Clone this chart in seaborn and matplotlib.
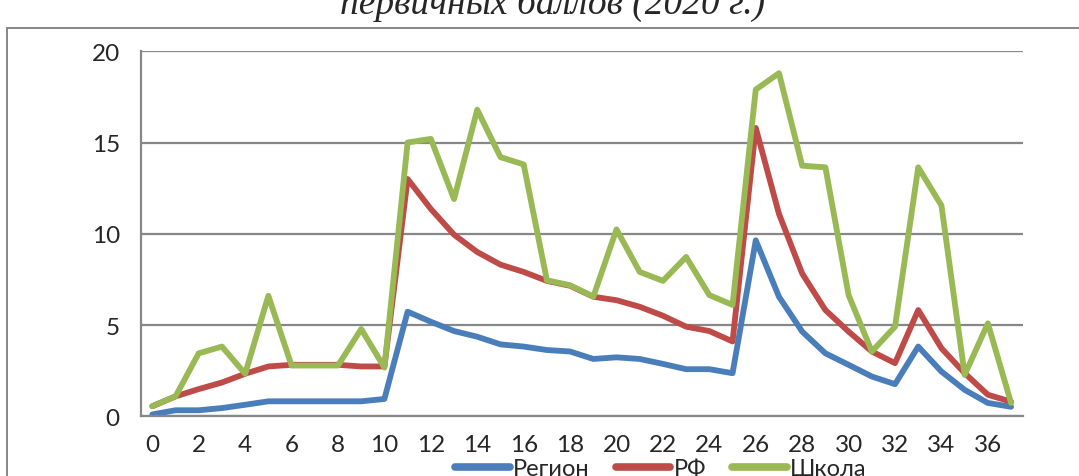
import numpy as np
import pandas as pd
import matplotlib
matplotlib.use('Agg')
import matplotlib.pyplot as plt
import seaborn as sns
from matplotlib.patches import Rectangle

# primary scores 0..37
scores = list(range(38))
region = [0.1, 0.33, 0.33, 0.45, 0.63, 0.82, 0.82, 0.82, 0.82, 0.82, 0.95,
          5.73, 5.18, 4.67, 4.36, 3.94, 3.82, 3.63, 3.55, 3.14, 3.23, 3.14,
          2.87, 2.58, 2.58, 2.36, 9.64, 6.55, 4.64, 3.45, 2.82, 2.18, 1.76,
          3.82, 2.45, 1.45, 0.73, 0.52]
rf = [0.55, 1.09, 1.49, 1.85, 2.33, 2.73, 2.82, 2.82, 2.82, 2.73, 2.73,
      13.0, 11.36, 9.95, 9.0, 8.31, 7.91, 7.42, 7.15, 6.55, 6.36, 6.0,
      5.51, 4.91, 4.67, 4.1, 15.8, 11.09, 7.82, 5.82, 4.64, 3.55, 2.91,
      5.82, 3.73, 2.36, 1.18, 0.8]
school = [0.55, 1.09, 3.45, 3.82, 2.33, 6.6, 2.78, 2.78, 2.78, 4.78, 2.67,
          15.0, 15.2, 11.9, 16.8, 14.2, 13.8, 7.45, 7.18, 6.55, 10.24, 7.91,
          7.42, 8.73, 6.64, 6.1, 17.9, 18.8, 13.73, 13.64, 6.64, 3.55, 4.91,
          13.64, 11.55, 2.27, 5.09, 0.73]
series_names = ['Регион', 'РФ', 'Школа']
series_colors = ['#4A7EBB', '#BE4B48', '#98B954']
title = 'первичных баллов (2020 г.)'

df = pd.DataFrame({'score': scores * 3,
                   'value': region + rf + school,
                   'series': sum([[n] * len(scores) for n in series_names], [])})

sns.set_style('white')
plt.rcParams['font.family'] = ['Lato', 'DejaVu Sans']
GREY = '#878787'

fig = plt.figure(figsize=(10.79, 4.77), dpi=100)
ax = fig.add_axes([0.1304, 0.1252, 0.8174, 0.7652])

sns.lineplot(data=df, x='score', y='value', hue='series', hue_order=series_names,
             palette=series_colors, linewidth=4.2, ax=ax, legend=False)
for ln in ax.lines:
    ln.set_solid_joinstyle('round')
    ln.set_solid_capstyle('round')

ax.set_xlim(-0.5, 37.5)
ax.set_ylim(0, 20)
ax.set_yticks([0, 5, 10, 15, 20])
ax.set_xticks(range(0, 37, 2))
ax.set_xticks(np.arange(-0.5, 38, 1), minor=True)
ax.tick_params(axis='x', which='major', length=0, pad=13, labelsize=17.5)
ax.tick_params(axis='x', which='minor', length=7, width=1.4, color=GREY, direction='out')
ax.tick_params(axis='y', length=7, width=1.4, color=GREY, direction='out', pad=8, labelsize=17.5)
ax.yaxis.grid(True, color=GREY, linewidth=1.6)
ax.set_axisbelow(True)
ax.set_xlabel('')
ax.set_ylabel('')
for s in ['top', 'right']:
    ax.spines[s].set_visible(False)
for s in ['left', 'bottom']:
    ax.spines[s].set_color(GREY)
    ax.spines[s].set_linewidth(1.6)

# outer frame of the embedded chart
fig.patches.append(Rectangle((7 / 1079, -0.2), 1.2, 0.2 + (477 - 29) / 477,
                             transform=fig.transFigure, fill=False,
                             edgecolor=GREY, linewidth=1.4))

fig.text(0.512, (477 - 14) / 477, title, ha='center', va='baseline',
         fontsize=27, style='italic', family=['Liberation Serif'])

handles = [plt.Line2D([], [], color=c, linewidth=5.5) for c in series_colors]
fig.legend(handles, series_names, loc='center', bbox_to_anchor=(0.6126, 7 / 477),
           ncol=3, frameon=False, fontsize=17, handlelength=2.3,
           handletextpad=0.15, columnspacing=1.1)

fig.savefig('out.png', dpi=100)
